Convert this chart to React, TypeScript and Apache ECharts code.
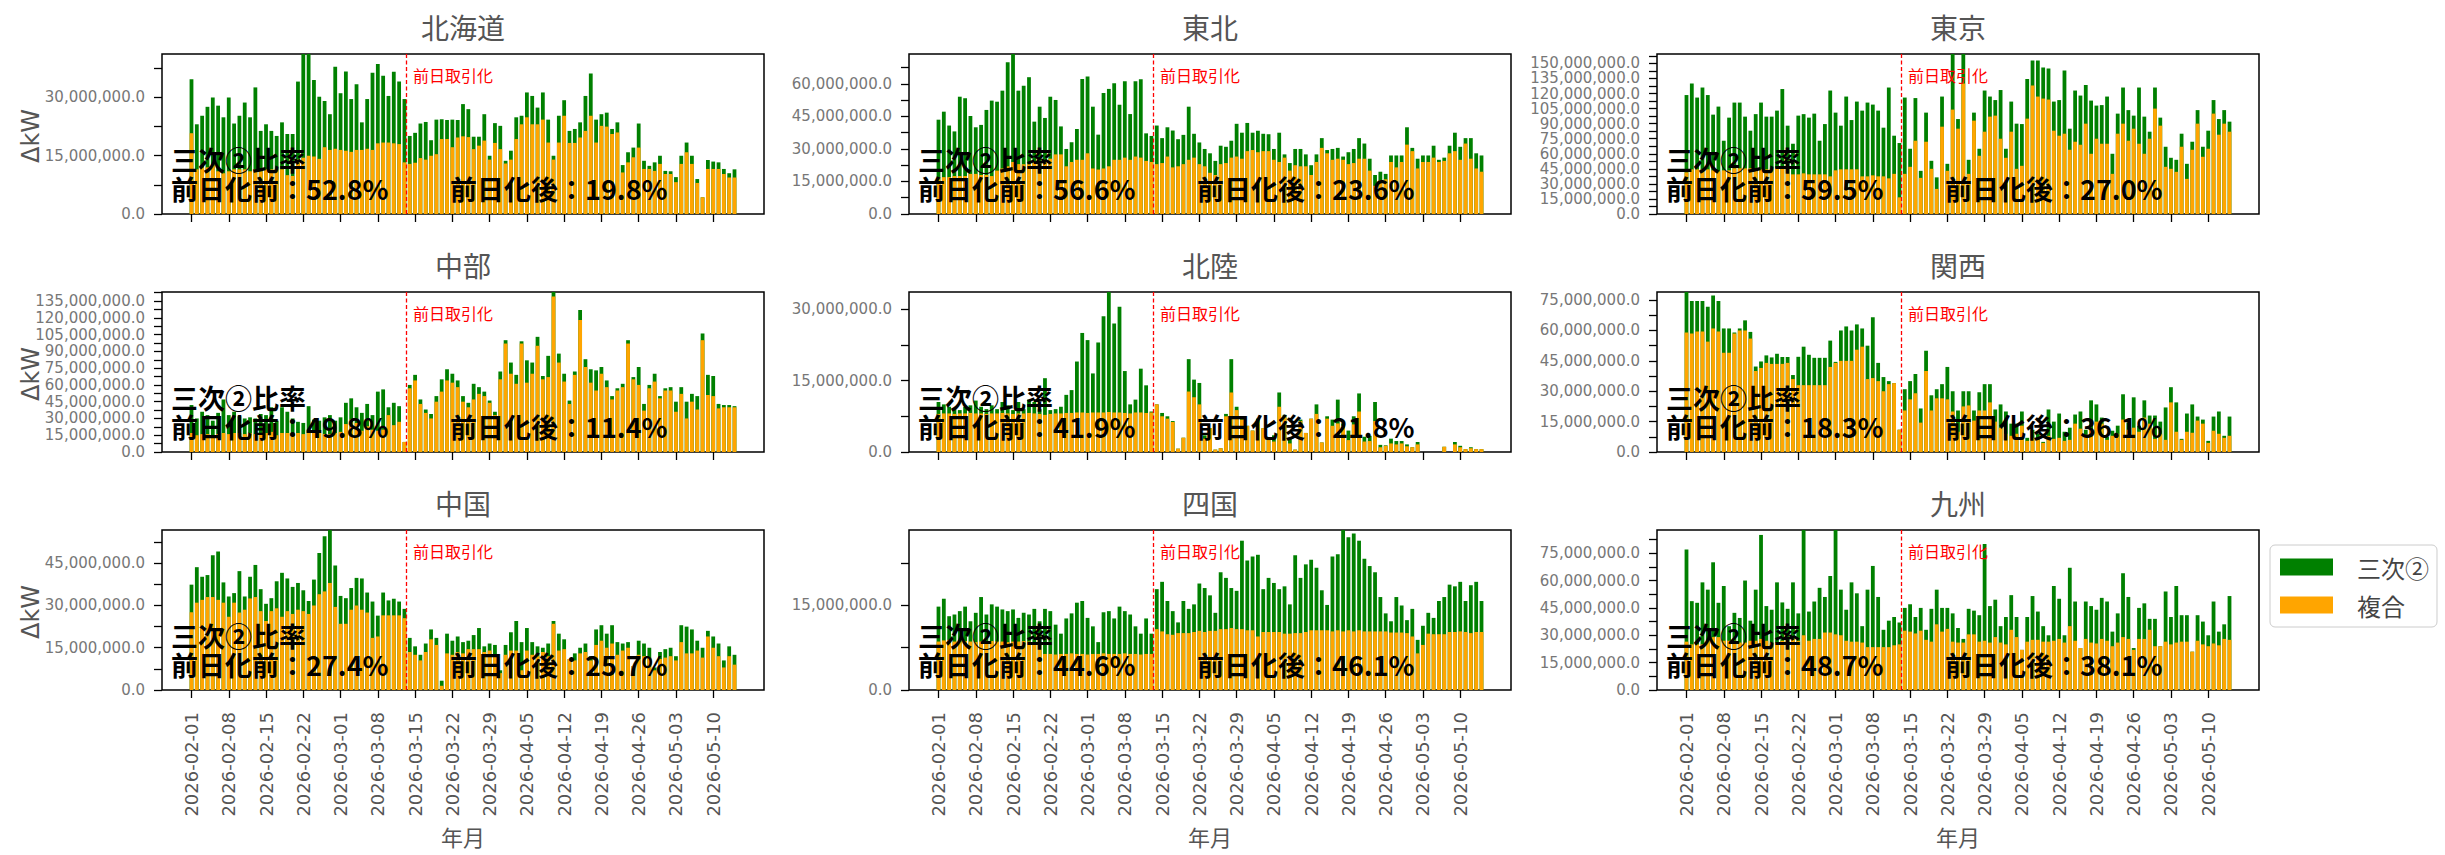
import React, { useEffect, useRef } from 'react';
import * as echarts from 'echarts';

// ---- regions and labels -------------------------------------------------
const REGIONS = ['北海道', '東北', '東京', '中部', '北陸', '関西', '中国', '四国', '九州'];
const PRE_RATIO = ['52.8%', '56.6%', '59.5%', '49.8%', '41.9%', '18.3%', '27.4%', '44.6%', '48.7%'];
const POST_RATIO = ['19.8%', '23.6%', '27.0%', '11.4%', '21.8%', '36.1%', '25.7%', '46.1%', '38.1%'];

// x axis: day offsets from 2026-02-01
const X_TICK_DAYS = [0, 7, 14, 21, 28, 35, 42, 49, 56, 63, 70, 77, 84, 91, 98];
const X_TICK_LABELS = [
  '2026-02-01', '2026-02-08', '2026-02-15', '2026-02-22', '2026-03-01', '2026-03-08', '2026-03-15',
  '2026-03-22', '2026-03-29', '2026-04-05', '2026-04-12', '2026-04-19', '2026-04-26', '2026-05-03', '2026-05-10',
];
const SWITCH_DAY = 40.3; // 前日取引化
const Y_MAX = [41.2e6, 73.8e6, 159.4e6, 143.1e6, 33.6e6, 79e6, 56.8e6, 28.4e6, 87.7e6];

// ---- daily ΔkW, in millions of kW (2026-02-01 .. 2026-05-14) -----------
const HOKKAIDO_FUKUGO = [20.8, 11.5, 12, 12, 12.5, 11, 10.5, 11, 11.5, 11.5, 11.5, 11, 11.5, 11, 11.5, 11.5, 11.5, 11.5, 10, 9.8, 14, 14.5, 15, 14.8, 14.2, 17.2, 16.5, 16.8, 16.5, 16.3, 16, 16.5, 16.5, 16.8, 16.5, 18.2, 18.4, 18.4, 18.2, 18, 13.3,
  12.9, 13.2, 14.4, 14.0, 15.0, 15.4, 19.3, 19.3, 17.2, 19.7, 20.0, 19.8, 16.7, 17.6, 18.9, 14.0, 18.3, 16.7, 13.0, 14.0, 19.3, 23.1, 24.9, 23.1, 23.1, 24.3, 18.4, 14.0, 18.4, 25.3, 18.3, 18.3, 19.7, 21.4, 25.3, 18.4, 22.7, 22.5, 20.6, 21.0, 10.7, 13.3, 14.6, 17.1, 11.6, 11.6, 11.1, 12.9, 10.3, 10.3, 8.2, 12.9, 15.9, 12.9, 8.0, 4.3, 11.6, 11.6, 11.6, 10.3, 9.4, 9.4];
const HOKKAIDO_SANJI2 = [13.9, 11.6, 13.3, 15.6, 17.5, 16.9, 14.4, 19.0, 11.8, 13.8, 17.2, 13.9, 21.1, 10.4, 11.6, 9.9, 8.6, 12.1, 10.6, 10.8, 20.1, 28.5, 27.0, 19.7, 16.0, 11.9, 9.2, 21.1, 14.6, 20.4, 13.6, 16.9, 7.1, 12.8, 19.9, 20.4, 17.2, 12.0, 18.4, 16.1, 16.3,
  7.2, 7.7, 8.9, 9.7, 4.0, 8.9, 5.1, 4.9, 7.1, 4.5, 8.3, 7.2, 3.2, 2.3, 6.8, 1.0, 5.1, 6.0, 0.7, 2.3, 5.6, 2.2, 6.4, 7.3, 4.3, 7.0, 5.9, 1.0, 6.9, 4.0, 3.1, 3.6, 3.9, 9.0, 10.9, 5.9, 3.0, 3.6, 1.3, 2.6, 1.9, 2.6, 2.5, 6.2, 2.1, 0.8, 2.2, 2.1, 0.8, 0.7, 1.3, 2.1, 2.5, 2.1, 1.0, 0, 2.3, 1.9, 1.7, 1.3, 1.1, 2.1];

const TOHOKU_FUKUGO = [16.9, 17, 17, 17.5, 17.5, 17.5, 18.5, 18.5, 18, 18, 17.5, 20, 21, 22, 24, 23, 23, 23, 24, 24, 24.5, 25.5, 27.5, 27.5, 22, 24, 25, 25, 28, 21, 20.5, 21, 22, 25, 25, 26, 25, 26.5, 26, 24.5, 24,
  23, 23.5, 26.5, 21.5, 22, 23, 25, 26, 23, 22, 19, 18, 23, 23.5, 26, 26.5, 25.5, 29, 29.5, 28.5, 29, 29, 25, 24, 26, 20, 22.5, 22, 22, 18, 24, 30.5, 28, 25, 25.5, 25, 23, 23.5, 25.5, 25.5, 20, 13, 15.5, 16, 24, 21.5, 24, 32, 29, 21, 24, 24, 26, 24, 24.5, 28, 29, 25, 32.5, 25.5, 21, 19.5];
const TOHOKU_SANJI2 = [26.6, 30.2, 23.8, 20.6, 36.6, 35.9, 26.7, 21.5, 23.1, 30.0, 34.8, 31.8, 35.9, 48.0, 52.0, 33.9, 36.2, 40.1, 18.6, 25.5, 19.8, 28.6, 25.1, 12.9, 8.0, 9.1, 14.2, 37.3, 35.4, 28.5, 16.1, 34.8, 35.7, 35.3, 25.4, 35.2, 21.1, 34.7, 36.1, 12.7, 12.0,
  17.8, 11.5, 13.5, 17.0, 12.5, 13.5, 24.5, 11.0, 10.0, 8.0, 9.0, 6.5, 8.5, 7.5, 7.8, 15.1, 12.0, 13.0, 8.0, 9.9, 8.0, 7.8, 5.0, 13.5, 1.5, 3.5, 7.5, 8.0, 5.5, 4.5, 3.5, 4.5, 1.5, 5.0, 5.0, 1.5, 5.5, 6.5, 9.5, 7.0, 5.5, 5.0, 4.0, 2.5, 3.0, 5.5, 3.0, 8.0, 1.5, 4.5, 3.0, 3.0, 5.5, 1.0, 1.5, 3.5, 8.5, 6.0, 2.5, 9.5, 7.0, 7.5];

const TOKYO_FUKUGO = [41.5, 44.5, 44.5, 44.5, 44.5, 43.5, 42.5, 43.5, 43.5, 45.5, 45.5, 45.5, 45.5, 45.5, 44.5, 44.5, 44.5, 45.5, 45.5, 45.5, 39.5, 39.5, 40.5, 39.5, 39.5, 39.5, 39.5, 37.5, 43.5, 44.5, 44.5, 44.5, 44.5, 37.5, 37.5, 38.5, 37.5, 37.5, 35.5, 40, 16.6,
  40, 47, 73, 36, 72, 45, 25, 87, 43, 104, 85, 130, 40, 93, 58, 82, 97, 98, 75, 56, 82, 45, 48, 95, 128, 117, 115, 114, 83, 78, 80, 64, 72, 69, 90, 60, 75, 70, 70, 40, 80, 90, 73, 85, 70, 60, 75, 105, 88, 47, 45, 42, 67, 35, 64, 90, 57, 65, 100, 79, 90, 82];
const TOKYO_SANJI2 = [77, 85.5, 71.5, 81.5, 74, 55.5, 64.5, 29.5, 52.5, 65.5, 65.5, 51.5, 37.5, 54, 66.5, 52.5, 52.5, 57.5, 79, 42.5, 30.5, 58.5, 59, 56.5, 60.5, 33.5, 50.1, 85.5, 57.5, 43.5, 72.5, 49.1, 67.5, 65.5, 73.5, 70.5, 65.5, 48.5, 90.5, 38, 54.1,
  76, 18, 42.5, 7, 29, 8, 11.5, 30, 7, 61, 9.6, 35, 14, 8, 7, 41, 20, 15.5, 48.5, 9, 30, 45, 41.6, 39.5, 25, 36, 31, 31, 29, 35.5, 63, 21, 51, 49, 38.5, 53, 33, 38.5, 47, 20, 20, 36, 30.5, 13, 56, 37, 7, 21, 8, 20, 11, 12, 13, 15, 8, 13.5, 10, 18, 13.5, 15.6, 13.5, 10];

const CHUBU_FUKUGO = [17, 15, 16, 16, 15, 16, 17, 16, 17, 17, 16, 17, 16, 17, 17, 18, 15, 17, 17, 16, 17, 16, 17, 17, 17, 16, 16, 17, 18, 25, 29, 26, 19, 23, 20, 19, 20, 33, 24, 27, 9,
  57, 64, 43, 35, 30, 45, 54, 64, 62, 58, 45, 40, 47, 52, 50, 44, 33, 65, 97, 70, 61, 97, 62, 70, 95, 65, 67, 139, 80, 63, 43, 69, 118, 76, 62, 55, 70, 58, 47, 55, 58, 97, 65, 60, 37, 57, 63, 48, 55, 55, 36, 52, 30, 45, 38, 100, 51, 50, 39, 40, 40, 40];
const CHUBU_SANJI2 = [25, 15, 20, 17, 13, 19, 30, 17, 19, 15, 14, 14, 14, 17, 16, 22, 13, 23, 19, 14, 10, 10, 24, 12, 11, 15, 17, 11, 13, 19, 19, 14, 16, 20, 13, 35, 36, 7, 20, 14, 0,
  3, 5, 4, 3, 4, 5, 11, 10, 8, 6, 5, 4, 14, 6, 4, 2, 3, 7, 3, 10, 8, 2, 20, 10, 8, 3, 19, 4.5, 8, 7, 3, 3, 9, 7, 12, 18, 6, 6, 3, 2, 3, 3, 2, 16, 6, 3, 7, 2, 2, 3, 9, 6, 15, 7, 12, 6, 18, 18, 4, 2, 2, 1];

const HOKURIKU_FUKUGO = [8.0, 8.1, 8.1, 8.0, 8.1, 8.1, 8.2, 8.1, 8.1, 8.0, 8.1, 8.1, 8.2, 8.1, 8.0, 8.1, 8.1, 8.2, 8.1, 8.0, 7.8, 8.0, 8.1, 8.1, 8.2, 8.2, 8.3, 8.3, 8.2, 8.3, 8.3, 8.3, 8.4, 8.3, 8.3, 8.2, 8.1, 8.3, 8.3, 8.2, 8.3,
  10, 7.5, 7, 6.3, 0.7, 3, 12.7, 11.5, 10, 2.8, 5, 0.5, 0.8, 7.5, 12.5, 8.8, 6.8, 5.5, 4.5, 6.2, 5, 2.5, 2.2, 9.5, 7.3, 1.8, 0.5, 6.5, 4, 7, 8, 2, 7, 5.5, 6, 5.5, 2.5, 5.8, 8.5, 2.2, 2.3, 6.5, 1, 1.3, 1.8, 1.6, 1.8, 1.2, 1, 1.6, 0, 0, 0, 0, 1.1, 0, 1.6, 1, 0.6, 0.8, 0.6, 0.6];
const HOKURIKU_SANJI2 = [2.5, 1.9, 1.4, 1.0, 0.7, 1.4, 1.6, 2.7, 1.4, 1.0, 1.7, 0.9, 2.3, 1.7, 0.8, 2.4, 0.9, 2.8, 2.4, 1.0, 7.7, 0.8, 0.9, 1.4, 3.8, 4.8, 10.7, 16.7, 15.3, 8.2, 14.7, 20.2, 25.6, 18.7, 22.2, 8.8, 1.9, 2.7, 9.2, 5.8, 0.2,
  0, 0.7, 0.5, 0.2, 0, 0, 6.8, 3.7, 4.5, 0.7, 0, 0, 0, 0.5, 7, 0.7, 0.2, 0, 0, 0.8, 0, 0.5, 1.3, 3, 0.5, 1.2, 0, 0.3, 0, 0, 2, 0, 0.5, 1.3, 5, 0.5, 2, 1.7, 3.8, 1, 1.1, 4, 0.5, 0.1, 1, 0.7, 0.5, 0.4, 0, 0.5, 0, 0, 0, 0, 0, 0, 0.5, 0.3, 0, 0.2, 0, 0];

const KANSAI_FUKUGO = [59, 58.5, 59.5, 59.5, 54.5, 61, 59.5, 49, 49, 58.5, 60, 60, 56, 40, 41.5, 44, 43.5, 43.5, 43.5, 44, 36, 33, 33, 33, 33, 33, 33, 42, 44, 45, 45, 45, 50.5, 52, 36, 36.5, 35, 30, 33.5, 34, 11,
  20.5, 26, 29, 14.5, 40, 20.5, 26.5, 26.5, 26, 20, 10, 22.5, 23, 15.5, 20.5, 20.5, 24.5, 15, 12, 9, 8, 9, 13, 5.5, 7, 6.5, 4.5, 8, 6.5, 7, 5.5, 6, 14, 11.5, 8.5, 11, 15, 14, 6, 8, 9, 16, 11, 12, 10, 17, 14, 6.5, 9, 6, 24.5, 10, 6, 10, 9.5, 15.5, 14, 4.5, 10.5, 9, 7, 8];
const KANSAI_SANJI2 = [21, 16, 15, 15, 17.2, 16.3, 15, 12, 12, 0.5, 1, 5, 3.3, 2.2, 3.2, 3.7, 3.2, 5, 3.4, 2.9, 2, 14, 19, 15, 13.5, 13.5, 13.5, 13, 0.5, 15, 17, 15, 12.5, 9, 16.5, 30, 9, 7, 1.5, 0, 0,
  10.5, 9, 9.5, 7, 10, 7.5, 4.5, 7, 16, 10, 10.5, 7.5, 7, 5, 9, 13, 9, 6, 11.5, 11, 6, 5, 7, 1.5, 4, 2.5, 0.5, 13, 8.5, 12, 4.5, 6, 4.5, 8.5, 2.5, 14.5, 8.5, 3, 1.5, 2.5, 4, 12.5, 3.5, 15, 3, 8.5, 4, 11.5, 6, 16, 7.5, 14.5, 0.5, 9, 14, 2, 2, 1, 7, 11, 1, 9.5];

const CHUGOKU_FUKUGO = [27.6, 31, 32, 33, 33, 32, 31, 26, 31, 27.5, 28.5, 32.5, 33, 28, 24.5, 28, 29, 26, 28, 27, 28.5, 28, 27, 30, 34, 35, 38, 29.5, 23.5, 23.5, 28.5, 30, 28.5, 27.5, 18.5, 19, 26.5, 26.5, 26.5, 26.5, 25.5,
  13.5, 12.5, 10.5, 13.5, 18, 16, 1.5, 13, 12.5, 13.5, 13, 14.5, 14.5, 14.5, 13.5, 14, 12.5, 6, 12.5, 14, 14, 7, 14, 12.5, 12, 13.5, 12, 23.5, 14, 14.5, 11, 10.5, 13, 13.5, 10.5, 16, 17.5, 15, 16.5, 12.5, 14, 15, 8.5, 12.5, 12, 11.5, 7, 11, 11.5, 12, 10.5, 17, 13, 13, 14, 11.5, 19, 15, 12, 8, 12, 9];
const CHUGOKU_SANJI2 = [9.8, 12.6, 8.2, 7.8, 14.8, 17.2, 7.2, 7.2, 3.4, 14.7, 4.7, 7.7, 11.4, 7.8, 6.1, 4.6, 9.6, 15.6, 11.6, 9.6, 9.5, 7.4, 4.6, 9.2, 14.6, 19.6, 20, 14.7, 9.9, 9.1, 7.7, 9.8, 11.1, 7.1, 12.9, 7.4, 8.1, 5.3, 5.9, 4.9, 3.3,
  5, 3, 2, 3, 3.5, 2.5, 1.8, 7, 5, 5.5, 4, 3, 5, 7.5, 2, 2.5, 3.5, 1, 3.5, 6.5, 10.5, 10, 8, 4.5, 3.5, 1.5, 4.5, 1, 6, 3.5, 0, 2.5, 2, 3, 1.5, 5.5, 5.5, 5, 6.5, 4.5, 2.5, 2, 0, 5, 4.5, 3.5, 1, 2.5, 3, 3, 1.5, 6, 9.5, 8.5, 3.5, 3.5, 2, 4, 4.5, 2.5, 3.5, 3.5];

const SHIKOKU_FUKUGO = [8.6, 8.8, 8.9, 8.6, 8.6, 8.7, 8.6, 8.5, 8.6, 8.6, 8.7, 8.6, 8.6, 8.5, 8.6, 8.6, 8.7, 8.6, 8.0, 8.0, 6.4, 6.4, 6.3, 6.4, 6.4, 6.5, 6.4, 6.4, 6.3, 6.4, 6.4, 6.5, 6.4, 6.4, 6.4, 6.5, 6.4, 6.4, 6.3, 6.4, 6.4,
  10.8, 10.4, 9.9, 9.8, 10.1, 10.1, 10.1, 10.3, 10.5, 10.3, 10.5, 10.5, 10.8, 10.8, 11.0, 10.8, 10.8, 10.6, 10.6, 9.5, 10.3, 10.3, 10.3, 10.3, 10.0, 10.0, 10.1, 10.1, 10.3, 10.6, 10.6, 10.6, 10.6, 10.4, 10.6, 10.4, 10.6, 10.4, 10.6, 10.4, 10.4, 10.4, 10.4, 10.4, 10.2, 10.2, 10.2, 10.1, 9.5, 6.5, 8.0, 10.0, 9.9, 9.9, 9.9, 10.3, 10.3, 10.4, 10.3, 10.1, 10.3, 10.3];
const SHIKOKU_SANJI2 = [6.2, 7.4, 4.2, 4.8, 5.4, 6.1, 3.6, 5.2, 7.9, 4.8, 6.5, 6.2, 5.7, 5.5, 5.7, 4.2, 5.0, 4.8, 6.4, 4.2, 8.0, 7.6, 5.3, 3.6, 6.3, 7.1, 9.1, 9.4, 6.5, 4.9, 2.1, 7.3, 7.6, 6.3, 8.4, 7.5, 7.0, 4.9, 3.7, 6.3, 3.6,
  7.1, 8.8, 5.9, 4.2, 1.9, 5.7, 4.3, 4.9, 8.4, 7.8, 6.3, 3.2, 10.1, 9.1, 7.1, 6.8, 15.7, 12.4, 13.1, 14.5, 7.6, 9.6, 8.7, 7.6, 8.4, 5.2, 13.8, 9.8, 12.0, 12.5, 11.1, 7.1, 4.5, 13.3, 13.5, 19.1, 16.5, 17.4, 15.9, 12.9, 11.6, 10.5, 6.1, 3.2, 2.0, 6.3, 4.8, 2.3, 4.9, 2.4, 3.4, 3.7, 2.9, 5.9, 6.6, 8.4, 8.1, 8.8, 5.5, 8.5, 8.9, 5.5];

const KYUSHU_FUKUGO = [26.5, 25, 25, 25, 27, 29, 29, 27, 27, 27, 26, 26, 27, 27, 28, 27, 26, 26, 27, 27, 28, 27, 30, 27, 28, 28, 31.5, 31.5, 30.5, 30, 27, 26.5, 26.5, 26, 23.5, 23.5, 23.5, 23.5, 23.5, 24.5, 25,
  32.5, 32, 31, 32.5, 27.5, 26.5, 36, 32, 33.5, 26.5, 26, 26, 30.5, 30.5, 26.5, 27, 26, 29, 26, 25, 33, 29, 22, 26.5, 27.5, 27.5, 26.5, 26.5, 27, 28, 26, 35, 27, 23, 28, 26, 25.5, 28, 27, 24, 26, 29, 28, 22, 28, 28, 33, 24, 24, 26.5, 25, 26, 26.5, 26.5, 21, 27, 25, 24, 25.5, 24.5, 28, 27.5];
const KYUSHU_SANJI2 = [50.5, 23.7, 22.8, 34, 28, 41, 18.8, 30, 8, 15.3, 13.5, 34, 11, 28, 57, 19, 18, 33, 21, 17.5, 31, 15, 60, 16, 20.5, 28, 19.5, 31, 59.5, 25, 17, 32.5, 26.5, 9, 31.5, 44.5, 27.5, 9.5, 14.5, 15.5, 12,
  12.5, 15, 9, 12.5, 5.5, 18, 19, 13, 11.5, 15.5, 8, 2, 14, 13, 14.5, 53, 20, 20.5, 9, 15, 19, 11, 0, 13.5, 24, 15.5, 8.5, 3.5, 30, 22, 4, 32, 21.5, 0, 20.5, 20, 18.5, 22.5, 21.5, 8, 16, 35, 23, 1, 17, 19.5, 6, 15, 0, 27.5, 15, 31, 14.5, 14.5, 0, 14, 12.5, 6, 23, 7.5, 8, 24];

const FUKUGO = [HOKKAIDO_FUKUGO, TOHOKU_FUKUGO, TOKYO_FUKUGO, CHUBU_FUKUGO, HOKURIKU_FUKUGO, KANSAI_FUKUGO, CHUGOKU_FUKUGO, SHIKOKU_FUKUGO, KYUSHU_FUKUGO];
const SANJI2 = [HOKKAIDO_SANJI2, TOHOKU_SANJI2, TOKYO_SANJI2, CHUBU_SANJI2, HOKURIKU_SANJI2, KANSAI_SANJI2, CHUGOKU_SANJI2, SHIKOKU_SANJI2, KYUSHU_SANJI2];
const MILLION = 1e6;

// ---- layout --------------------------------------------------------------
const W = 2445;
const H = 855;
const GRID_W = 602;
const GRID_H = 160;
const COL_X = [162, 909, 1657];
const ROW_Y = [54, 292, 530];
const X_MIN = -5.54;
const X_MAX = 107.54;
const TICK_FONT = 'DejaVu Sans';
const JP_FONT = 'Noto Sans CJK JP';
const GREEN = '#008000';
const ORANGE = '#FFA500';
const BAR_W = 3.8;

const fmtKw = (v: number) =>
  v.toLocaleString('en-US', { minimumFractionDigits: 1, maximumFractionDigits: 1 });

const fmtDay = (v: number) => {
  const k = X_TICK_DAYS.indexOf(Math.round(v));
  return k >= 0 ? X_TICK_LABELS[k] : '';
};

function stepsUpTo(max: number, step: number): number[] {
  const out: number[] = [];
  for (let k = 0; k * step <= max; k++) out.push(k * step);
  return out;
}

function text(x: number, y: number, str: string, style: Record<string, unknown>, extra: Record<string, unknown> = {}) {
  return {
    type: 'text',
    x,
    y,
    z: 100,
    ...extra,
    style: { text: str, ...style },
  };
}

const centered = { align: 'center', verticalAlign: 'middle', textAlign: 'center', textVerticalAlign: 'middle' };

function buildOption() {
  const grids: any[] = [];
  const xAxes: any[] = [];
  const yAxes: any[] = [];
  const series: any[] = [];
  const graphics: any[] = [];

  REGIONS.forEach((region, i) => {
    const col = i % 3;
    const row = Math.floor(i / 3);
    const left = COL_X[col];
    const top = ROW_Y[row];
    const days = FUKUGO[i].map((_, j) => j);

    grids.push({
      left,
      top,
      width: GRID_W,
      height: GRID_H,
      show: true,
      borderColor: '#000',
      borderWidth: 1.5,
      backgroundColor: 'transparent',
      containLabel: false,
      outerBoundsMode: 'none',
    });

    xAxes.push({
      gridIndex: i,
      type: 'value',
      min: X_MIN,
      max: X_MAX,
      axisLine: { show: false, onZero: false },
      splitLine: { show: false },
      axisTick: {
        show: true,
        inside: false,
        length: 8,
        customValues: X_TICK_DAYS,
        lineStyle: { color: '#000', width: 1.3 },
      },
      axisLabel: {
        show: row === 2,
        customValues: X_TICK_DAYS,
        rotate: 90,
        margin: 22,
        formatter: fmtDay,
        fontFamily: TICK_FONT,
        fontSize: 18,
        color: '#555',
      },
    });

    yAxes.push({
      gridIndex: i,
      type: 'value',
      min: 0,
      max: Y_MAX[i],
      axisLine: { show: false, onZero: false },
      splitLine: { show: false },
      axisTick: {
        show: true,
        inside: false,
        length: 8,
        customValues: stepsUpTo(Y_MAX[i], 7.5e6),
        lineStyle: { color: '#000', width: 1.3 },
      },
      axisLabel: {
        customValues: stepsUpTo(Y_MAX[i], 15e6),
        formatter: fmtKw,
        fontFamily: TICK_FONT,
        fontSize: 15,
        color: '#777',
        margin: 17,
      },
    });

    // 三次② sits on top of 複合: its bar spans up to 複合 + 三次②, and the
    // 複合 bar is drawn over its lower part.
    series.push({
      type: 'bar',
      name: '三次②',
      xAxisIndex: i,
      yAxisIndex: i,
      barWidth: BAR_W,
      barGap: '-100%',
      clip: true,
      z: 2,
      itemStyle: { color: GREEN },
      data: days.map((d) => [d, (FUKUGO[i][d] + SANJI2[i][d]) * MILLION]),
    });
    series.push({
      type: 'bar',
      name: '複合',
      xAxisIndex: i,
      yAxisIndex: i,
      barWidth: BAR_W,
      barGap: '-100%',
      clip: true,
      z: 3,
      itemStyle: { color: ORANGE },
      data: days.map((d) => [d, FUKUGO[i][d] * MILLION]),
      markLine: {
        silent: true,
        symbol: ['none', 'none'],
        label: { show: false },
        lineStyle: { color: '#ff0000', type: [4, 2.5], width: 1.3 },
        data: [{ xAxis: SWITCH_DAY }],
        z: 10,
      },
      markPoint: {
        silent: true,
        symbol: 'circle',
        symbolSize: 0,
        itemStyle: { color: 'transparent' },
        label: {
          show: true,
          formatter: '前日取引化',
          position: 'right',
          distance: 7,
          offset: [0, 21],
          color: '#ff0000',
          fontSize: 16,
          fontFamily: JP_FONT,
        },
        data: [{ coord: [SWITCH_DAY, Y_MAX[i]] }],
      },
    });

    // panel title
    graphics.push(
      text(left + GRID_W / 2, top - 27, region, { fontSize: 28, fontFamily: JP_FONT, fill: '#555', ...centered }),
    );

    // ratio annotations
    const bold = {
      fontSize: 27,
      lineHeight: 29,
      fontWeight: 'bold',
      fontFamily: JP_FONT,
      fill: '#000',
      align: 'left',
      verticalAlign: 'middle',
      textAlign: 'left',
      textVerticalAlign: 'middle',
    };
    graphics.push(text(left + 9, top + 119.5, `三次②比率\n前日化前：${PRE_RATIO[i]}`, bold));
    graphics.push(text(left + 288, top + 134, `前日化後：${POST_RATIO[i]}`, bold));

    if (col === 0) {
      graphics.push(
        text(31, top + 82, 'ΔkW', { fontSize: 24, fontFamily: TICK_FONT, fill: '#555', ...centered }, { rotation: Math.PI / 2 }),
      );
    }
    if (row === 2) {
      graphics.push(text(left + GRID_W / 2, 836, '年月', { fontSize: 22, fontFamily: JP_FONT, fill: '#555', ...centered }));
    }
  });

  return {
    animation: false,
    backgroundColor: '#fff',
    grid: grids,
    xAxis: xAxes,
    yAxis: yAxes,
    series,
    legend: {
      data: ['三次②', '複合'],
      orient: 'vertical',
      left: 2270,
      top: 545,
      icon: 'rect',
      itemWidth: 53,
      itemHeight: 17,
      itemGap: 14,
      padding: [10, 8, 10, 10],
      borderColor: '#ccc',
      borderWidth: 1,
      borderRadius: 5,
      selectedMode: false,
      textStyle: {
        fontSize: 24,
        lineHeight: 24,
        fontFamily: JP_FONT,
        color: '#444',
        padding: [0, 0, 0, 19],
      },
    },
    graphic: { elements: graphics },
  };
}

export default function App() {
  const ref = useRef<HTMLDivElement>(null);

  useEffect(() => {
    document.body.style.margin = '0';
    const chart = echarts.init(ref.current as HTMLDivElement, undefined, {
      renderer: 'svg',
      width: W,
      height: H,
    });
    chart.setOption(buildOption() as any);
    return () => chart.dispose();
  }, []);

  return (
    <div
      ref={ref}
      style={{ position: 'absolute', left: 0, top: 0, width: W, height: H, background: '#fff' }}
    />
  );
}
